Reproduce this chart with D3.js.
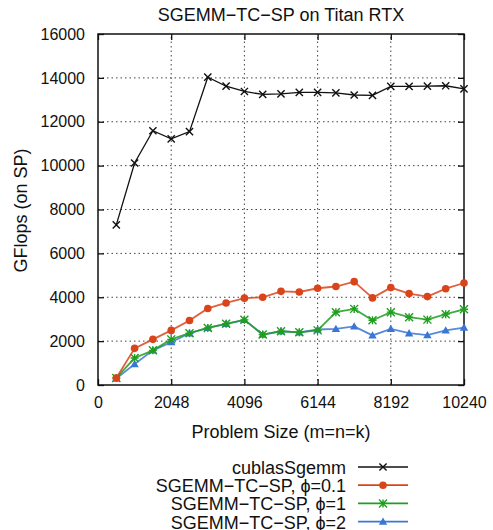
<!DOCTYPE html>
<html>
<head>
<meta charset="utf-8">
<script src="https://cdn.jsdelivr.net/npm/d3@7"></script>
<style>
  body { margin: 0; background: #fff; }
  text { font-family: "Liberation Sans", Arial, sans-serif; fill: #111; }
</style>
</head>
<body>
<div id="chart"></div>
<script>
const sizes = [512, 1024, 1536, 2048, 2560, 3072, 3584, 4096, 4608, 5120,
  5632, 6144, 6656, 7168, 7680, 8192, 8704, 9216, 9728, 10240];
const cublas = [7300, 10120, 11590, 11220, 11550, 14030, 13620, 13380, 13250, 13270,
  13340, 13340, 13320, 13220, 13200, 13610, 13610, 13620, 13640, 13500];
const tcPhi01 = [320, 1670, 2080, 2490, 2940, 3490, 3740, 3960, 4000, 4270,
  4240, 4410, 4490, 4710, 3970, 4440, 4170, 4030, 4390, 4650];
const tcPhi1 = [320, 1230, 1580, 2080, 2360, 2600, 2790, 2970, 2300, 2450,
  2400, 2490, 3320, 3470, 2950, 3320, 3090, 2980, 3230, 3450];
const tcPhi2 = [300, 950, 1580, 1950, 2360, 2600, 2790, 2970, 2300, 2450,
  2400, 2530, 2560, 2670, 2260, 2560, 2360, 2270, 2490, 2620];
const xTicks = [0, 2048, 4096, 6144, 8192, 10240];
const yTicks = [0, 2000, 4000, 6000, 8000, 10000, 12000, 14000, 16000];

const series = [
  { name: "cublasSgemm", values: cublas, color: "#111111", marker: "cross", width: 1.3 },
  { name: "SGEMM\u2212TC\u2212SP, \u03d5=0.1", values: tcPhi01, color: "#d9441a", marker: "circle", width: 1.8 },
  { name: "SGEMM\u2212TC\u2212SP, \u03d5=1", values: tcPhi1, color: "#1f9e1f", marker: "star", width: 1.8 },
  { name: "SGEMM\u2212TC\u2212SP, \u03d5=2", values: tcPhi2, color: "#3a76d6", marker: "triangle", width: 1.8 }
];

const width = 493, height = 530;
const margin = { top: 34, right: 29, bottom: 145, left: 98 };
const iw = width - margin.left - margin.right;
const ih = height - margin.top - margin.bottom;

const svg = d3.select("#chart").append("svg")
  .attr("width", width).attr("height", height);

const x = d3.scaleLinear().domain([0, 10240]).range([margin.left, margin.left + iw]);
const y = d3.scaleLinear().domain([0, 16000]).range([margin.top + ih, margin.top]);

// grid
const grid = svg.append("g").attr("stroke", "#444").attr("stroke-dasharray", "1.5,3").attr("stroke-width", 1);
xTicks.slice(1, -1).forEach(t => {
  grid.append("line").attr("x1", x(t)).attr("x2", x(t)).attr("y1", y(0)).attr("y2", y(16000));
});
yTicks.slice(1, -1).forEach(t => {
  grid.append("line").attr("x1", x(0)).attr("x2", x(10240)).attr("y1", y(t)).attr("y2", y(t));
});

// axes with inward ticks, mirrored
const tickLen = 6;
const fsTick = 16;
const fs = 18;
svg.append("g").attr("transform", `translate(0,${y(0)})`)
  .call(d3.axisBottom(x).tickValues(xTicks).tickSizeInner(-tickLen).tickSizeOuter(0).tickPadding(12).tickFormat(d3.format("d")))
  .call(g => g.select(".domain").remove())
  .call(g => g.selectAll("text").attr("font-size", fsTick).attr("font-family", null));
svg.append("g").attr("transform", `translate(0,${y(16000)})`)
  .call(d3.axisTop(x).tickValues(xTicks).tickSizeInner(-tickLen).tickSizeOuter(0).tickFormat(""))
  .call(g => g.select(".domain").remove());
svg.append("g").attr("transform", `translate(${x(0)},0)`)
  .call(d3.axisLeft(y).tickValues(yTicks).tickSizeInner(-tickLen).tickSizeOuter(0).tickPadding(13).tickFormat(d3.format("d")))
  .call(g => g.select(".domain").remove())
  .call(g => g.selectAll("text").attr("font-size", fsTick).attr("font-family", null));
svg.append("g").attr("transform", `translate(${x(10240)},0)`)
  .call(d3.axisRight(y).tickValues(yTicks).tickSizeInner(-tickLen).tickSizeOuter(0).tickFormat(""))
  .call(g => g.select(".domain").remove());
svg.selectAll(".tick line").attr("stroke", "#111").attr("stroke-width", 1.3);

svg.append("rect")
  .attr("x", x(0)).attr("y", y(16000))
  .attr("width", x(10240) - x(0)).attr("height", y(0) - y(16000))
  .attr("fill", "none").attr("stroke", "#111").attr("stroke-width", 1.5);

// markers
function drawMarker(g, type, cx, cy, color) {
  if (type === "circle") {
    g.append("circle").attr("cx", cx).attr("cy", cy).attr("r", 3.8).attr("fill", color);
  } else if (type === "triangle") {
    const s = 4.2;
    g.append("path").attr("d", `M${cx},${cy - s}L${cx + s},${cy + s * 0.75}L${cx - s},${cy + s * 0.75}Z`).attr("fill", color);
  } else if (type === "cross") {
    const s = 3.6;
    g.append("path").attr("d", `M${cx - s},${cy - s}L${cx + s},${cy + s}M${cx - s},${cy + s}L${cx + s},${cy - s}`)
      .attr("stroke", color).attr("stroke-width", 1.4);
  } else if (type === "star") {
    const s = 4;
    g.append("path").attr("d", `M${cx - s},${cy - s}L${cx + s},${cy + s}M${cx - s},${cy + s}L${cx + s},${cy - s}M${cx},${cy - s}L${cx},${cy + s}M${cx - s},${cy}L${cx + s},${cy}`)
      .attr("stroke", color).attr("stroke-width", 1.4);
  }
}

const line = d3.line().x((d, i) => x(sizes[i])).y(d => y(d));
series.slice().reverse().forEach(s => {
  const g = svg.append("g");
  g.append("path").datum(s.values).attr("d", line)
    .attr("fill", "none").attr("stroke", s.color).attr("stroke-width", s.width)
    .attr("stroke-opacity", s.marker === "cross" ? 1 : 0.85);
  s.values.forEach((v, i) => drawMarker(g, s.marker, x(sizes[i]), y(v), s.color));
});

// title and axis labels
svg.append("text").attr("x", 281).attr("y", 21).attr("text-anchor", "middle")
  .attr("font-size", fs).text("SGEMM\u2212TC\u2212SP on Titan RTX");
svg.append("text").attr("x", 281).attr("y", 438).attr("text-anchor", "middle")
  .attr("font-size", fs).text("Problem Size (m=n=k)");
svg.append("text").attr("transform", `translate(27,${(y(0) + y(16000)) / 2 + 1}) rotate(-90)`)
  .attr("text-anchor", "middle").attr("font-size", fs).text("GFlops (on SP)");

// legend
const legend = svg.append("g");
series.forEach((s, i) => {
  const ly = 467 + i * 18.2;
  legend.append("text").attr("x", 346).attr("y", ly + 7).attr("text-anchor", "end")
    .attr("font-size", fs).text(s.name);
  legend.append("line").attr("x1", 358).attr("x2", 408).attr("y1", ly).attr("y2", ly)
    .attr("stroke", s.color).attr("stroke-width", s.marker === "cross" ? 1.3 : 1.8);
  drawMarker(legend, s.marker, 383, ly, s.color);
});
</script>
</body>
</html>
